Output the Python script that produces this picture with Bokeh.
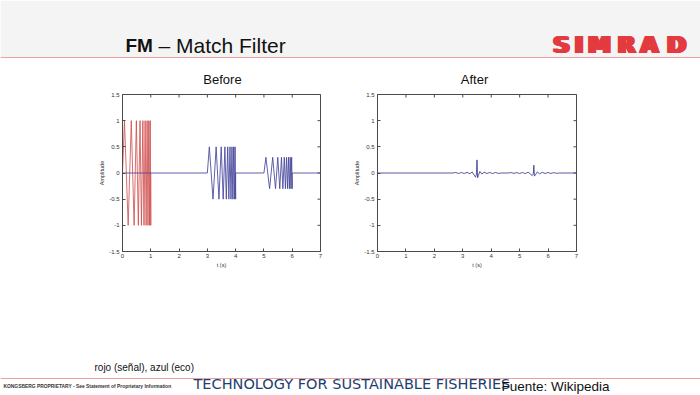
from bokeh.plotting import figure
from bokeh.layouts import column, row
from bokeh.models import Range1d, FixedTicker, BoxAnnotation, Span
from bokeh.core.properties import value
from bokeh.embed import file_html
from bokeh.resources import INLINE

# ---------------- data ----------------
# transmitted chirp (red) and its two echoes (blue): start time, amplitude
pulse_start = [0.0, 3.0, 5.0]
pulse_amp = [1.0, 0.5, 0.3]
# times (relative to pulse start, s) and normalised values of the chirp's extremes
chirp_rel_t = [0.0, 0.07, 0.2, 0.31, 0.41, 0.49, 0.56, 0.62, 0.67, 0.72,
               0.76, 0.8, 0.835, 0.87, 0.9, 0.93, 0.955, 0.98, 1.0]
chirp_rel_v = [0, 1, -1, 1, -1, 1, -1, 1, -1, 1,
               -1, 1, -1, 1, -1, 1, -1, 1, -1]

# matched-filter output ("After")
after_t = [0.0, 2.65, 2.75, 2.85, 2.95, 3.05, 3.15, 3.25, 3.33, 3.40,
           3.45, 3.48, 3.50, 3.52, 3.55, 3.60, 3.67, 3.75, 3.85, 3.95,
           4.05, 4.15, 4.25, 4.35, 4.60, 4.70, 4.80, 4.90, 5.00, 5.10,
           5.20, 5.30, 5.38, 5.44, 5.48, 5.50, 5.52, 5.56, 5.62, 5.70,
           5.80, 5.90, 6.00, 6.10, 6.20, 6.30, 6.40, 7.0]
after_v = [0, 0, 0.01, -0.01, 0.01, -0.01, 0.012, -0.015, 0.02, -0.04,
           -0.08, -0.02, 0.25, -0.09, -0.05, 0.03, -0.02, 0.015, -0.01, 0.01,
           -0.01, 0.01, -0.008, 0, 0, 0.008, -0.008, 0.008, -0.01, 0.01,
           -0.012, 0.015, -0.02, -0.05, -0.02, 0.15, -0.06, -0.03, 0.02, -0.015,
           0.012, -0.01, 0.01, -0.01, 0.008, -0.006, 0, 0]

x_ticks = [0, 1, 2, 3, 4, 5, 6, 7]
y_ticks = [-1.5, -1, -0.5, 0, 0.5, 1, 1.5]
y_tick_labels = ["-1.5", "-1", "-0.5", "0", "0.5", "1", "1.5"]
t_min, t_end = 0.0, 7.0
y_min, y_max = -1.5, 1.5

# ---------------- build series ----------------
def pulse(i):
    t = [pulse_start[i] + r for r in chirp_rel_t] + [pulse_start[i] + chirp_rel_t[-1]]
    v = [pulse_amp[i] * r for r in chirp_rel_v] + [0.0]
    return t, v

red_t, red_v = pulse(0)
blue_t, blue_v = [t_min], [0.0]
for i in (1, 2):
    t, v = pulse(i)
    blue_t += t
    blue_v += v
blue_t.append(t_end)
blue_v.append(0.0)

FONT_NAME = "Liberation Sans"
FONT = value(FONT_NAME)
AX = "#4a4a4a"
FRAME_H = 157
TICK_PX = 3


def style_axis(ax):
    ax.major_tick_in = TICK_PX
    ax.major_tick_out = 0
    ax.minor_tick_line_color = None
    ax.axis_line_color = AX
    ax.major_tick_line_color = AX
    ax.major_label_text_font = FONT_NAME
    ax.major_label_text_color = "#333333"
    ax.major_label_text_font_size = "6px"
    ax.axis_label_text_font = FONT_NAME
    ax.axis_label_text_font_style = "normal"
    ax.axis_label_text_font_size = "5.5px"
    ax.axis_label_text_color = "#333333"


def make_plot(min_left, frame_w, min_right):
    p = figure(frame_width=frame_w, frame_height=FRAME_H,
               x_range=Range1d(t_min, t_end), y_range=Range1d(y_min, y_max),
               output_backend="svg", toolbar_location=None,
               x_axis_label="t (s)", y_axis_label="Amplitude")
    p.min_border = 0
    p.min_border_left = min_left
    p.min_border_right = min_right
    p.min_border_top = 6
    p.min_border_bottom = 19
    p.grid.visible = False
    p.outline_line_color = AX
    p.background_fill_color = "white"
    p.border_fill_color = "white"
    p.xaxis.ticker = FixedTicker(ticks=x_ticks)
    p.yaxis.ticker = FixedTicker(ticks=y_ticks)
    p.yaxis.major_label_overrides = {t: s for t, s in zip(y_ticks, y_tick_labels)}
    for ax in p.xaxis:
        style_axis(ax)
        ax.major_label_standoff = 2
        ax.axis_label_standoff = 1
    for ax in p.yaxis:
        style_axis(ax)
        ax.major_label_standoff = 3
        ax.axis_label_standoff = 1
    # MATLAB-style inward ticks on the top and right edges of the box
    dy = TICK_PX * (y_max - y_min) / FRAME_H
    dx = TICK_PX * (t_end - t_min) / frame_w
    p.segment(x0=x_ticks, y0=[y_max] * len(x_ticks), x1=x_ticks,
              y1=[y_max - dy] * len(x_ticks), line_color=AX, line_width=1)
    p.segment(x0=[t_end] * len(y_ticks), y0=y_ticks, x1=[t_end - dx] * len(y_ticks),
              y1=y_ticks, line_color=AX, line_width=1)
    return p


before = make_plot(122, 198, 28)
before.line(red_t, red_v, line_color="#d04a4a", line_width=1, line_alpha=0.8)
before.line(blue_t, blue_v, line_color="#45459c", line_width=1, line_alpha=0.85)

after = make_plot(29, 199, 124)
after.line(after_t, after_v, line_color="#3d3d8e", line_width=1, line_alpha=0.85)

# ---------------- header ----------------
header = figure(width=700, height=88, x_range=Range1d(0, 700), y_range=Range1d(88, 0),
                x_axis_type=None, y_axis_type=None, output_backend="svg",
                toolbar_location=None)
header.min_border = 0
header.outline_line_color = None
header.grid.visible = False
header.add_layout(BoxAnnotation(left=0, right=700, top=0, bottom=57, level="underlay",
                                fill_color="#f4f4f4", fill_alpha=1, line_color=None))
header.add_layout(Span(location=57, dimension="width", line_color="#e9a1a1", line_width=1))
header.text(x=[125], y=[45], text=["FM"], text_font=FONT, text_font_size="19px",
            text_font_style="bold", text_baseline="middle", text_color="#111111")
header.text(x=[158], y=[45], text=["\u2013 Match Filter"], text_font=FONT,
            text_font_size="21px", text_baseline="middle", text_color="#111111")
logo_letters = ["S", "I", "M", "R", "A", "D"]
logo_x = [561, 578.5, 599, 626, 649, 676]
for dx in (-2, -1, 0, 1, 2):
    header.text(x=[x + dx for x in logo_x], y=[44] * 6, text=logo_letters,
                text_font=value("DejaVu Sans"), text_font_size="23px",
                text_font_style="bold", text_align="center", text_baseline="middle",
                text_color="#e23a3f")
header.text(x=[222, 474], y=[79, 79], text=["Before", "After"], text_font=FONT,
            text_font_size="13px", text_align="center", text_baseline="middle",
            text_color="#111111")

# ---------------- footer ----------------
footer = figure(width=700, height=125, x_range=Range1d(0, 700), y_range=Range1d(395, 270),
                x_axis_type=None, y_axis_type=None, output_backend="svg",
                toolbar_location=None)
footer.min_border = 0
footer.outline_line_color = None
footer.grid.visible = False
footer.add_layout(Span(location=378, dimension="width", line_color="#e9a1a1", line_width=1))
footer.text(x=[94], y=[367], text=["rojo (se\u00f1al), azul (eco)"], text_font=FONT,
            text_font_size="10px", text_baseline="middle", text_color="#111111")
footer.text(x=[3], y=[386], text=["KONGSBERG PROPRIETARY - See Statement of Proprietary Information"],
            text_font=FONT, text_font_size="4.9px", text_font_style="bold",
            text_baseline="middle", text_color="#333333")
footer.text(x=[193], y=[383], text=["TECHNOLOGY FOR SUSTAINABLE FISHERIES"],
            text_font=value("DejaVu Sans"), text_font_size="14.5px", text_baseline="middle",
            text_color="#21406f")
footer.text(x=[501], y=[386], text=["Fuente: Wikipedia"], text_font=FONT,
            text_font_size="13.5px", text_baseline="middle", text_color="#111111")

layout = column(header, row(before, after, spacing=0), footer, spacing=0)

open("out.html", "w").write(file_html(layout, INLINE))
